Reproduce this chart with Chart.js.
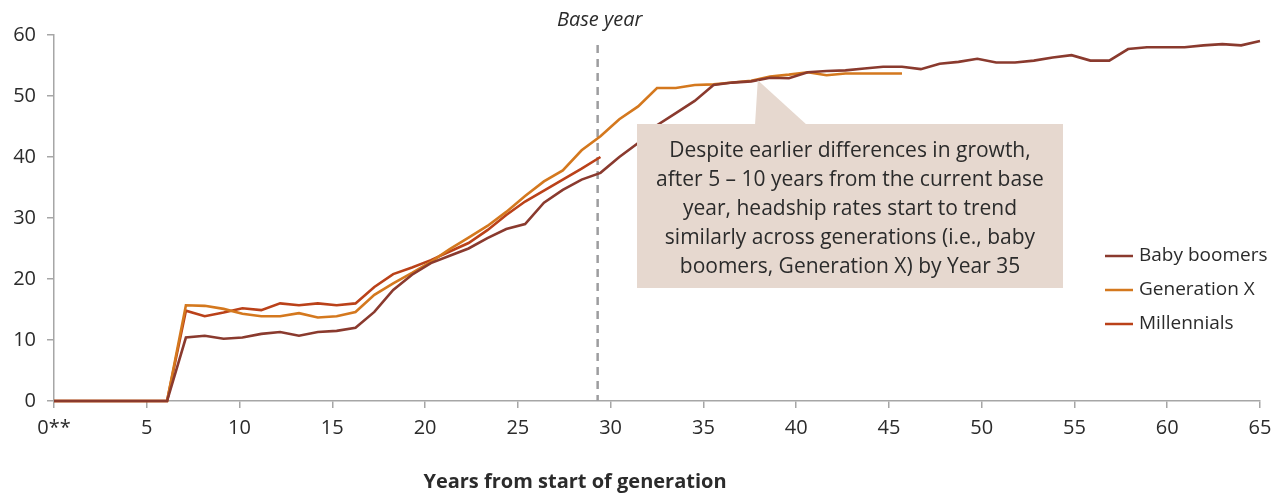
<!DOCTYPE html>
<html>
<head>
<meta charset="utf-8">
<script src="https://cdn.jsdelivr.net/npm/chart.js@4.4.1/dist/chart.umd.min.js"></script>
<style>
  html, body { margin: 0; padding: 0; background: #ffffff; }
  #wrap { position: relative; width: 1285px; height: 494px; }
</style>
</head>
<body>
<div id="wrap"><canvas id="c"></canvas></div>
<script>
// ---- Data (headship rate, %, by year-step from start of generation) ----
const seriesNames = ['Baby boomers', 'Generation X', 'Millennials'];
const seriesColors = ['#8a3a2e', '#d4781e', '#ba4119'];

const babyBoomers = [0,0,0,0,0,0,0,10.4,10.7,10.2,10.4,11.0,11.3,10.7,11.3,11.5,12.0,14.6,18.2,20.7,
  22.6,23.8,25.0,26.7,28.2,29.0,32.5,34.6,36.3,37.4,40.0,42.3,45.2,47.2,49.2,51.8,52.2,52.4,53.0,52.9,
  53.9,54.1,54.2,54.5,54.8,54.8,54.4,55.3,55.6,56.1,55.5,55.5,55.8,56.3,56.7,55.8,55.8,57.7,58.0,58.0,
  58.0,58.3,58.5,58.3,59.0];
const generationX = [0,0,0,0,0,0,0,15.7,15.6,15.1,14.3,13.9,13.9,14.4,13.7,13.9,14.6,17.4,19.3,21.0,
  22.8,24.9,26.8,28.7,31.0,33.6,36.0,37.8,41.1,43.4,46.2,48.3,51.3,51.3,51.8,51.9,52.2,52.5,53.2,53.5,
  53.9,53.4,53.7,53.7,53.7,53.7];
const millennials = [0,0,0,0,0,0,0,14.8,13.9,14.5,15.2,14.9,16.0,15.7,16.0,15.7,16.0,18.7,20.8,21.9,
  23.1,24.5,25.9,28.0,30.5,32.7,34.5,36.3,38.1,40.0];

// point positions (one per observation)
const steps = babyBoomers.map((_, i) => i);
// axis tick labels (years from start of generation)
const xTickLabels = ['0**','5','10','15','20','25','30','35','40','45','50','55','60','65'];
const yTickValues = [0,10,20,30,40,50,60];

const baseYearLabel = 'Base year';
const noteLines = [
  'Despite earlier differences in growth,',
  'after 5 \u2013 10 years from the current base',
  'year, headship rates start to trend',
  'similarly across generations (i.e., baby',
  'boomers, Generation X) by Year 35'
];
const xAxisTitle = 'Years from start of generation';

// ---- Chart ----
const FONT = '"Open Sans", "Noto Sans", sans-serif';
const lastStep = steps[steps.length - 1];
const baseYearStep = 28.85;

const overlay = {
  id: 'overlay',
  beforeDatasetsDraw(chart) {
    const { ctx, scales: { x, y } } = chart;
    const bx = x.getPixelForValue(baseYearStep);
    ctx.save();
    ctx.strokeStyle = '#9d9d9f';
    ctx.lineWidth = 2.5;
    ctx.setLineDash([8, 6]);
    ctx.beginPath();
    ctx.moveTo(bx, 45);
    ctx.lineTo(bx, y.getPixelForValue(0));
    ctx.stroke();
    ctx.restore();
  },
  afterDatasetsDraw(chart) {
    const { ctx, scales: { x, y } } = chart;
    ctx.save();
    ctx.fillStyle = '#2b2b2b';
    ctx.font = 'italic 20px ' + FONT;
    ctx.textAlign = 'center';
    ctx.textBaseline = 'middle';
    ctx.fillText(baseYearLabel, x.getPixelForValue(baseYearStep) + 2, 20);

    // annotation box with pointer
    const left = 637, right = 1063, top = 124, bottom = 288;
    ctx.fillStyle = '#e6d8cf';
    ctx.fillRect(left, top, right - left, bottom - top);
    ctx.beginPath();
    ctx.moveTo(755, top + 1);
    ctx.lineTo(x.getPixelForValue(37.35), y.getPixelForValue(52.6));
    ctx.lineTo(807, top + 1);
    ctx.closePath();
    ctx.fill();
    ctx.fillStyle = '#2b2b2b';
    ctx.font = '21px ' + FONT;
    ctx.textAlign = 'center';
    noteLines.forEach((t, i) => ctx.fillText(t, 850, 151 + i * 29));

    // legend
    ctx.font = '19px ' + FONT;
    ctx.textAlign = 'left';
    chart.data.datasets.forEach((ds, i) => {
      const ly = 256 + i * 34;
      ctx.strokeStyle = ds.borderColor;
      ctx.lineWidth = 2.5;
      ctx.beginPath();
      ctx.moveTo(1105, ly);
      ctx.lineTo(1133, ly);
      ctx.stroke();
      ctx.fillStyle = '#2b2b2b';
      ctx.fillText(ds.label, 1139, ly);
    });

    // x axis title
    ctx.font = 'bold 20px ' + FONT;
    ctx.textAlign = 'center';
    ctx.fillText(xAxisTitle, 575, 482);
    ctx.restore();
  }
};

new Chart(document.getElementById('c'), {
  type: 'line',
  data: {
    labels: steps,
    datasets: [
      { label: seriesNames[0], data: babyBoomers, borderColor: seriesColors[0] },
      { label: seriesNames[1], data: generationX, borderColor: seriesColors[1] },
      { label: seriesNames[2], data: millennials, borderColor: seriesColors[2] }
    ].map(d => Object.assign(d, { borderWidth: 2.6, pointRadius: 0, tension: 0, fill: false, clip: false }))
  },
  options: {
    responsive: true,
    maintainAspectRatio: false,
    animation: false,
    layout: { padding: { top: 35, right: 25, left: 0, bottom: 0 } },
    plugins: { legend: { display: false }, tooltip: { enabled: false } },
    scales: {
      x: {
        type: 'linear',
        min: 0,
        max: lastStep,
        afterBuildTicks(scale) {
          scale.ticks = xTickLabels.map((_, k) => ({ value: k * lastStep / (xTickLabels.length - 1) }));
        },
        afterFit(scale) { scale.height = 93; },
        grid: { drawOnChartArea: false, color: '#a6a6a6', tickLength: 7, lineWidth: 1.5 },
        border: { color: '#a6a6a6', width: 1.5 },
        ticks: {
          autoSkip: false, maxRotation: 0, padding: 8,
          color: '#2b2b2b', font: { family: FONT, size: 20 },
          callback: (v, i) => xTickLabels[i]
        }
      },
      y: {
        min: 0,
        max: 60,
        afterBuildTicks(scale) { scale.ticks = yTickValues.map(v => ({ value: v })); },
        afterFit(scale) { scale.width = 54; },
        grid: { drawOnChartArea: false, color: '#a6a6a6', tickLength: 7, lineWidth: 1.5 },
        border: { color: '#a6a6a6', width: 1.5 },
        ticks: { padding: 11, color: '#2b2b2b', font: { family: FONT, size: 20 } }
      }
    }
  },
  plugins: [overlay]
});
</script>
</body>
</html>
